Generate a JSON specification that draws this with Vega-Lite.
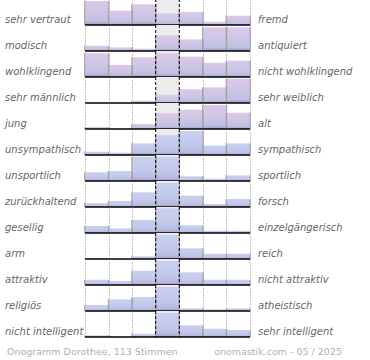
{
  "$schema": "https://vega.github.io/schema/vega-lite/v6.json",
  "autosize": {"type": "none"},
  "padding": {"left": 80, "top": -1, "right": 290, "bottom": 361},
  "background": "white",
  "config": {"view": {"stroke": null}},
  "bounds": "flush",
  "data": {"values": [
    {"nr":1,"links":"sehr vertraut","rechts":"fremd","gruppe":"w","bin":1,"wert":24},
    {"nr":1,"links":"sehr vertraut","rechts":"fremd","gruppe":"w","bin":2,"wert":14.3},
    {"nr":1,"links":"sehr vertraut","rechts":"fremd","gruppe":"w","bin":3,"wert":20.7},
    {"nr":1,"links":"sehr vertraut","rechts":"fremd","gruppe":"w","bin":4,"wert":11.7},
    {"nr":1,"links":"sehr vertraut","rechts":"fremd","gruppe":"w","bin":5,"wert":13},
    {"nr":1,"links":"sehr vertraut","rechts":"fremd","gruppe":"w","bin":6,"wert":3.3},
    {"nr":1,"links":"sehr vertraut","rechts":"fremd","gruppe":"w","bin":7,"wert":9.3},
    {"nr":2,"links":"modisch","rechts":"antiquiert","gruppe":"w","bin":1,"wert":5.3},
    {"nr":2,"links":"modisch","rechts":"antiquiert","gruppe":"w","bin":2,"wert":3.7},
    {"nr":2,"links":"modisch","rechts":"antiquiert","gruppe":"w","bin":3,"wert":2.3},
    {"nr":2,"links":"modisch","rechts":"antiquiert","gruppe":"w","bin":4,"wert":15.7},
    {"nr":2,"links":"modisch","rechts":"antiquiert","gruppe":"w","bin":5,"wert":11.7},
    {"nr":2,"links":"modisch","rechts":"antiquiert","gruppe":"w","bin":6,"wert":23.7},
    {"nr":2,"links":"modisch","rechts":"antiquiert","gruppe":"w","bin":7,"wert":23.7},
    {"nr":3,"links":"wohlklingend","rechts":"nicht wohlklingend","gruppe":"w","bin":1,"wert":23.7},
    {"nr":3,"links":"wohlklingend","rechts":"nicht wohlklingend","gruppe":"w","bin":2,"wert":12},
    {"nr":3,"links":"wohlklingend","rechts":"nicht wohlklingend","gruppe":"w","bin":3,"wert":19.7},
    {"nr":3,"links":"wohlklingend","rechts":"nicht wohlklingend","gruppe":"w","bin":4,"wert":23.7},
    {"nr":3,"links":"wohlklingend","rechts":"nicht wohlklingend","gruppe":"w","bin":5,"wert":20.3},
    {"nr":3,"links":"wohlklingend","rechts":"nicht wohlklingend","gruppe":"w","bin":6,"wert":14.3},
    {"nr":3,"links":"wohlklingend","rechts":"nicht wohlklingend","gruppe":"w","bin":7,"wert":16.3},
    {"nr":4,"links":"sehr männlich","rechts":"sehr weiblich","gruppe":"w","bin":1,"wert":0},
    {"nr":4,"links":"sehr männlich","rechts":"sehr weiblich","gruppe":"w","bin":2,"wert":0},
    {"nr":4,"links":"sehr männlich","rechts":"sehr weiblich","gruppe":"w","bin":3,"wert":2.3},
    {"nr":4,"links":"sehr männlich","rechts":"sehr weiblich","gruppe":"w","bin":4,"wert":8.3},
    {"nr":4,"links":"sehr männlich","rechts":"sehr weiblich","gruppe":"w","bin":5,"wert":13.7},
    {"nr":4,"links":"sehr männlich","rechts":"sehr weiblich","gruppe":"w","bin":6,"wert":15.7},
    {"nr":4,"links":"sehr männlich","rechts":"sehr weiblich","gruppe":"w","bin":7,"wert":24.3},
    {"nr":5,"links":"\u00a0jung","rechts":"alt","gruppe":"w","bin":1,"wert":2},
    {"nr":5,"links":"\u00a0jung","rechts":"alt","gruppe":"w","bin":2,"wert":0},
    {"nr":5,"links":"\u00a0jung","rechts":"alt","gruppe":"w","bin":3,"wert":5},
    {"nr":5,"links":"\u00a0jung","rechts":"alt","gruppe":"w","bin":4,"wert":15.7},
    {"nr":5,"links":"\u00a0jung","rechts":"alt","gruppe":"w","bin":5,"wert":19.3},
    {"nr":5,"links":"\u00a0jung","rechts":"alt","gruppe":"w","bin":6,"wert":24},
    {"nr":5,"links":"\u00a0jung","rechts":"alt","gruppe":"w","bin":7,"wert":16.3},
    {"nr":6,"links":"unsympathisch","rechts":"sympathisch","gruppe":"m","bin":1,"wert":3.3},
    {"nr":6,"links":"unsympathisch","rechts":"sympathisch","gruppe":"m","bin":2,"wert":2.3},
    {"nr":6,"links":"unsympathisch","rechts":"sympathisch","gruppe":"m","bin":3,"wert":11.7},
    {"nr":6,"links":"unsympathisch","rechts":"sympathisch","gruppe":"m","bin":4,"wert":20},
    {"nr":6,"links":"unsympathisch","rechts":"sympathisch","gruppe":"m","bin":5,"wert":24},
    {"nr":6,"links":"unsympathisch","rechts":"sympathisch","gruppe":"m","bin":6,"wert":9.3},
    {"nr":6,"links":"unsympathisch","rechts":"sympathisch","gruppe":"m","bin":7,"wert":11.7},
    {"nr":7,"links":"unsportlich","rechts":"sportlich","gruppe":"m","bin":1,"wert":8.7},
    {"nr":7,"links":"unsportlich","rechts":"sportlich","gruppe":"m","bin":2,"wert":10},
    {"nr":7,"links":"unsportlich","rechts":"sportlich","gruppe":"m","bin":3,"wert":24.3},
    {"nr":7,"links":"unsportlich","rechts":"sportlich","gruppe":"m","bin":4,"wert":24.3},
    {"nr":7,"links":"unsportlich","rechts":"sportlich","gruppe":"m","bin":5,"wert":4.7},
    {"nr":7,"links":"unsportlich","rechts":"sportlich","gruppe":"m","bin":6,"wert":2.3},
    {"nr":7,"links":"unsportlich","rechts":"sportlich","gruppe":"m","bin":7,"wert":5.7},
    {"nr":8,"links":"zurückhaltend","rechts":"forsch","gruppe":"m","bin":1,"wert":4},
    {"nr":8,"links":"zurückhaltend","rechts":"forsch","gruppe":"m","bin":2,"wert":6},
    {"nr":8,"links":"zurückhaltend","rechts":"forsch","gruppe":"m","bin":3,"wert":14.7},
    {"nr":8,"links":"zurückhaltend","rechts":"forsch","gruppe":"m","bin":4,"wert":24},
    {"nr":8,"links":"zurückhaltend","rechts":"forsch","gruppe":"m","bin":5,"wert":11.3},
    {"nr":8,"links":"zurückhaltend","rechts":"forsch","gruppe":"m","bin":6,"wert":3},
    {"nr":8,"links":"zurückhaltend","rechts":"forsch","gruppe":"m","bin":7,"wert":8},
    {"nr":9,"links":"gesellig","rechts":"einzelgängerisch","gruppe":"m","bin":1,"wert":7},
    {"nr":9,"links":"gesellig","rechts":"einzelgängerisch","gruppe":"m","bin":2,"wert":4.7},
    {"nr":9,"links":"gesellig","rechts":"einzelgängerisch","gruppe":"m","bin":3,"wert":13},
    {"nr":9,"links":"gesellig","rechts":"einzelgängerisch","gruppe":"m","bin":4,"wert":24.7},
    {"nr":9,"links":"gesellig","rechts":"einzelgängerisch","gruppe":"m","bin":5,"wert":7.7},
    {"nr":9,"links":"gesellig","rechts":"einzelgängerisch","gruppe":"m","bin":6,"wert":2.3},
    {"nr":9,"links":"gesellig","rechts":"einzelgängerisch","gruppe":"m","bin":7,"wert":2.3},
    {"nr":10,"links":"arm","rechts":"reich","gruppe":"m","bin":1,"wert":0.5},
    {"nr":10,"links":"arm","rechts":"reich","gruppe":"m","bin":2,"wert":0},
    {"nr":10,"links":"arm","rechts":"reich","gruppe":"m","bin":3,"wert":2.7},
    {"nr":10,"links":"arm","rechts":"reich","gruppe":"m","bin":4,"wert":24},
    {"nr":10,"links":"arm","rechts":"reich","gruppe":"m","bin":5,"wert":10.7},
    {"nr":10,"links":"arm","rechts":"reich","gruppe":"m","bin":6,"wert":5.3},
    {"nr":10,"links":"arm","rechts":"reich","gruppe":"m","bin":7,"wert":5.3},
    {"nr":11,"links":"attraktiv","rechts":"nicht attraktiv","gruppe":"m","bin":1,"wert":5.3},
    {"nr":11,"links":"attraktiv","rechts":"nicht attraktiv","gruppe":"m","bin":2,"wert":4},
    {"nr":11,"links":"attraktiv","rechts":"nicht attraktiv","gruppe":"m","bin":3,"wert":14.3},
    {"nr":11,"links":"attraktiv","rechts":"nicht attraktiv","gruppe":"m","bin":4,"wert":24},
    {"nr":11,"links":"attraktiv","rechts":"nicht attraktiv","gruppe":"m","bin":5,"wert":12.7},
    {"nr":11,"links":"attraktiv","rechts":"nicht attraktiv","gruppe":"m","bin":6,"wert":5.3},
    {"nr":11,"links":"attraktiv","rechts":"nicht attraktiv","gruppe":"m","bin":7,"wert":5.3},
    {"nr":12,"links":"religiös","rechts":"atheistisch","gruppe":"m","bin":1,"wert":6},
    {"nr":12,"links":"religiös","rechts":"atheistisch","gruppe":"m","bin":2,"wert":11.7},
    {"nr":12,"links":"religiös","rechts":"atheistisch","gruppe":"m","bin":3,"wert":14},
    {"nr":12,"links":"religiös","rechts":"atheistisch","gruppe":"m","bin":4,"wert":24},
    {"nr":12,"links":"religiös","rechts":"atheistisch","gruppe":"m","bin":5,"wert":2.7},
    {"nr":12,"links":"religiös","rechts":"atheistisch","gruppe":"m","bin":6,"wert":1.7},
    {"nr":12,"links":"religiös","rechts":"atheistisch","gruppe":"m","bin":7,"wert":2.7},
    {"nr":13,"links":"nicht intelligent","rechts":"sehr intelligent","gruppe":"m","bin":1,"wert":1.7},
    {"nr":13,"links":"nicht intelligent","rechts":"sehr intelligent","gruppe":"m","bin":2,"wert":0},
    {"nr":13,"links":"nicht intelligent","rechts":"sehr intelligent","gruppe":"m","bin":3,"wert":3.3},
    {"nr":13,"links":"nicht intelligent","rechts":"sehr intelligent","gruppe":"m","bin":4,"wert":24},
    {"nr":13,"links":"nicht intelligent","rechts":"sehr intelligent","gruppe":"m","bin":5,"wert":11.7},
    {"nr":13,"links":"nicht intelligent","rechts":"sehr intelligent","gruppe":"m","bin":6,"wert":8.3},
    {"nr":13,"links":"nicht intelligent","rechts":"sehr intelligent","gruppe":"m","bin":7,"wert":7}
  ]},
  "facet": {"row": {"field": "nr", "type": "ordinal", "header": null}},
  "spacing": {"row": 0},
  "spec": {
    "width": 175,
    "height": 26,
    "encoding": {
      "x": {"type": "quantitative", "scale": {"domain": [0.5, 7.5], "nice": false, "zero": false},
            "axis": {"values": [0.5, 1.5, 2.5, 5.5, 6.5, 7.5], "grid": true, "gridColor": "#888888", "gridDash": [1, 2], "gridWidth": 1, "labels": false, "ticks": false, "domain": false, "title": null}},
      "y": {"type": "quantitative", "scale": {"domain": [0, 26], "nice": false}, "axis": null}
    },
    "layer": [
      {
        "transform": [{"filter": "datum.bin == 4"}],
        "mark": {"type": "rect", "color": "#ececec"},
        "encoding": {"x": {"datum": 3.5, "type": "quantitative"}, "x2": {"datum": 4.5}, "y": {"datum": 0, "type": "quantitative"}, "y2": {"datum": 26}}
      },
      {
        "transform": [{"filter": "datum.gruppe == 'w'"}],
        "mark": {"type": "bar", "orient": "vertical", "width": 25,
          "color": {"gradient": "linear", "x1": 0, "y1": 0, "x2": 0, "y2": 1,
            "stops": [{"offset": 0, "color": "#dcc8e8"}, {"offset": 0.45, "color": "#cfc6e6"}, {"offset": 0.85, "color": "#bfbfe2"}, {"offset": 1, "color": "#a294c6"}]}},
        "encoding": {"x": {"field": "bin", "type": "quantitative"}, "y": {"field": "wert", "type": "quantitative"}}
      },
      {
        "transform": [{"filter": "datum.gruppe == 'm'"}],
        "mark": {"type": "bar", "orient": "vertical", "width": 25,
          "color": {"gradient": "linear", "x1": 0, "y1": 0, "x2": 0, "y2": 1,
            "stops": [{"offset": 0, "color": "#c8d0ee"}, {"offset": 0.6, "color": "#c2c8ea"}, {"offset": 0.88, "color": "#b8bae0"}, {"offset": 1, "color": "#a294c6"}]}},
        "encoding": {"x": {"field": "bin", "type": "quantitative"}, "y": {"field": "wert", "type": "quantitative"}}
      },
      {
        "mark": {"type": "bar", "orient": "vertical", "width": 1, "xOffset": -12, "color": "#a0a0a0"},
        "encoding": {"x": {"field": "bin", "type": "quantitative"}, "y": {"field": "wert", "type": "quantitative"}}
      },
      {
        "mark": {"type": "bar", "orient": "vertical", "width": 1, "xOffset": 12, "color": "#a0a0a0"},
        "encoding": {"x": {"field": "bin", "type": "quantitative"}, "y": {"field": "wert", "type": "quantitative"}}
      },
      {
        "transform": [{"filter": "datum.bin == 1"}],
        "mark": {"type": "rule", "color": "#000000", "strokeWidth": 1.3},
        "encoding": {"x": {"datum": 0.5, "type": "quantitative"}, "x2": {"datum": 7.5}, "y": {"datum": 0, "type": "quantitative"}}
      },
      {
        "transform": [{"filter": "datum.bin == 1"}],
        "mark": {"type": "rule", "color": "#000000", "strokeWidth": 1, "strokeDash": [3, 2]},
        "encoding": {"x": {"datum": 3.5, "type": "quantitative"}}
      },
      {
        "transform": [{"filter": "datum.bin == 1"}],
        "mark": {"type": "rule", "color": "#000000", "strokeWidth": 1, "strokeDash": [3, 2]},
        "encoding": {"x": {"datum": 4.5, "type": "quantitative"}}
      },
      {
        "transform": [{"filter": "datum.bin == 1"}],
        "mark": {"type": "text", "align": "left", "baseline": "middle", "dx": -80, "font": "DejaVu Sans", "fontStyle": "italic", "fontSize": 10, "color": "#666666"},
        "encoding": {"x": {"datum": 0.5, "type": "quantitative"}, "y": {"datum": 5, "type": "quantitative"}, "text": {"field": "links"}}
      },
      {
        "transform": [{"filter": "datum.bin == 1"}],
        "mark": {"type": "text", "align": "left", "baseline": "middle", "dx": 8, "font": "DejaVu Sans", "fontStyle": "italic", "fontSize": 10, "color": "#666666"},
        "encoding": {"x": {"datum": 7.5, "type": "quantitative"}, "y": {"datum": 5, "type": "quantitative"}, "text": {"field": "rechts"}}
      },
      {
        "transform": [{"filter": "datum.bin == 1 && datum.nr == 13"}],
        "mark": {"type": "text", "align": "left", "baseline": "middle", "dx": -78, "font": "DejaVu Sans", "fontSize": 9.5, "color": "#b0b0b0"},
        "encoding": {"x": {"datum": 0.5, "type": "quantitative"}, "y": {"datum": -15, "type": "quantitative"}, "text": {"value": "Onogramm Dorothee, 113 Stimmen"}}
      },
      {
        "transform": [{"filter": "datum.bin == 1 && datum.nr == 13"}],
        "mark": {"type": "text", "align": "right", "baseline": "middle", "dx": 92, "font": "DejaVu Sans", "fontSize": 9.5, "color": "#b0b0b0"},
        "encoding": {"x": {"datum": 7.5, "type": "quantitative"}, "y": {"datum": -15, "type": "quantitative"}, "text": {"value": "onomastik.com - 05 / 2025"}}
      }
    ]
  }
}
